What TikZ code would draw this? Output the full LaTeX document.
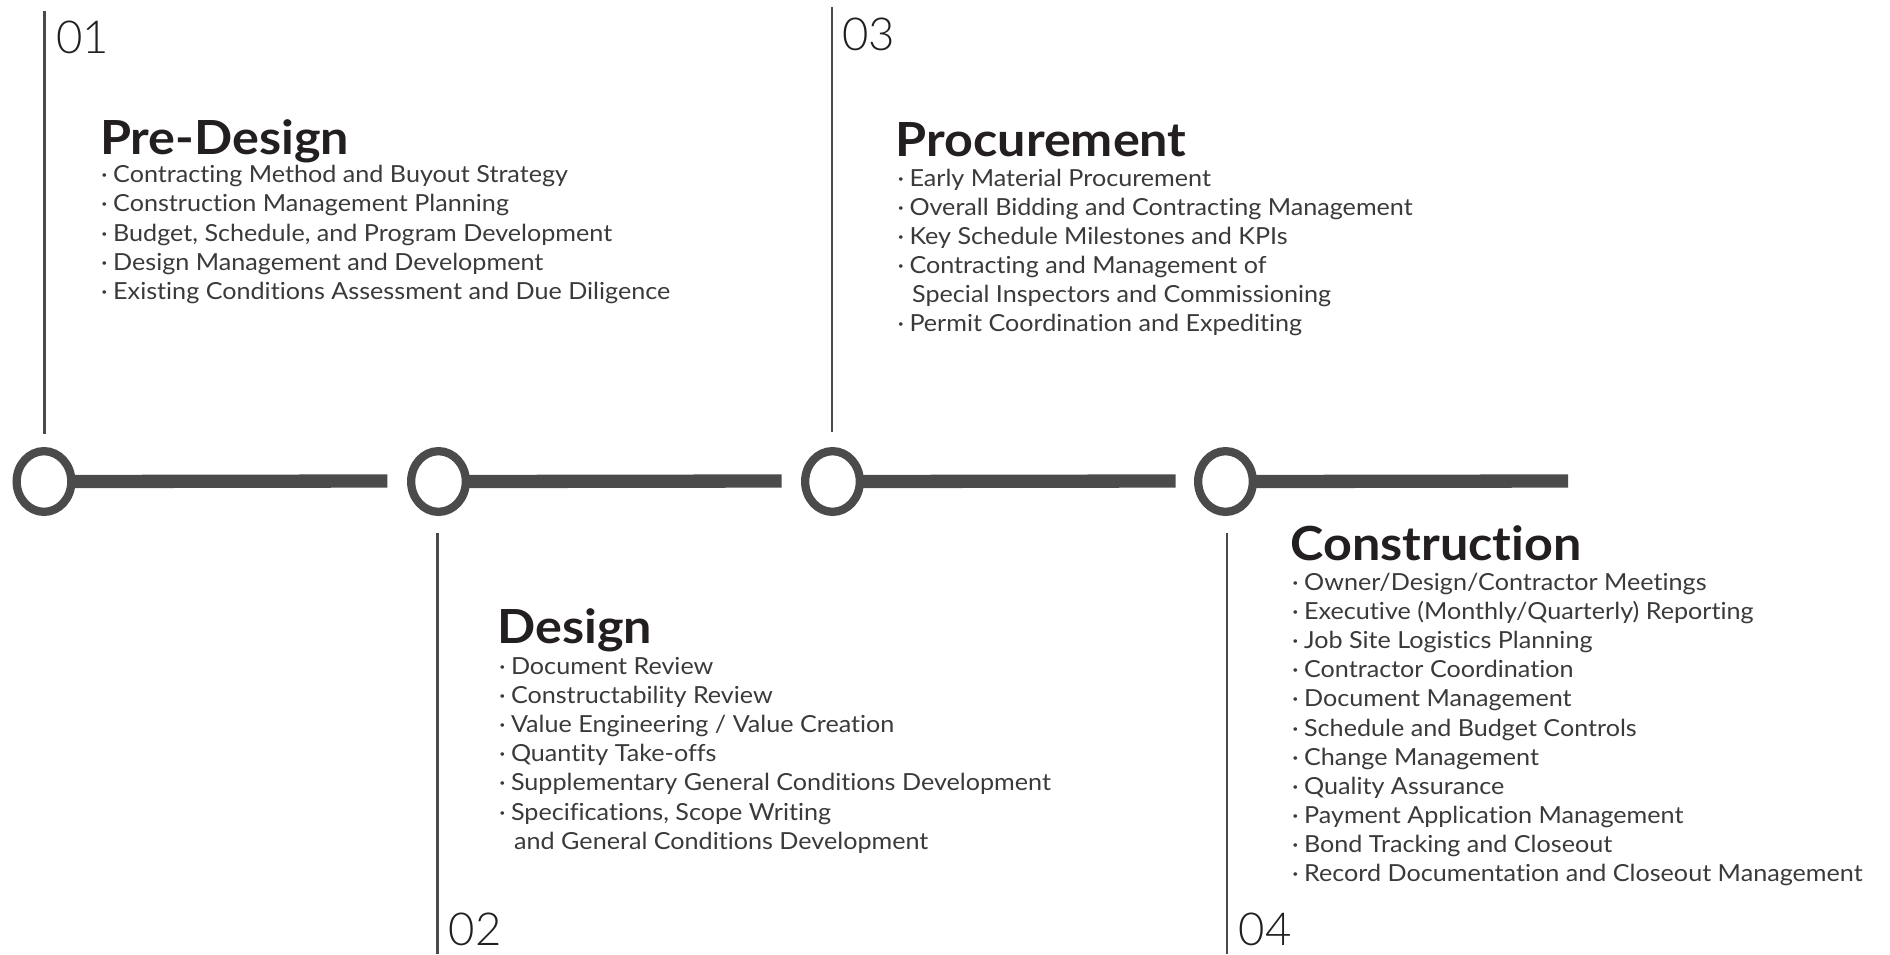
\documentclass[tikz,border=0pt]{standalone}
\usepackage{fontspec}
\setmainfont{Lato}[Ligatures=NoCommon, FakeStretch=1.07]
\newfontfamily\lightnum{Lato Light}
\usetikzlibrary{shapes.geometric}
\definecolor{ringgray}{HTML}{4B4B4B}
\definecolor{vgray}{HTML}{4A4A4A}
\definecolor{titleblack}{HTML}{231F20}
\definecolor{bodygray}{HTML}{3A3A3A}
\newcommand{\bul}{\makebox[12pt][l]{·}}
\begin{document}
\begin{tikzpicture}[x=1pt,y=-1pt,
  ring/.style={ellipse, draw=ringgray, fill=white, line width=8.3pt, minimum width=54.7pt, minimum height=60.7pt, inner sep=0pt},
  bar/.style={draw=ringgray, line width=13.3pt},
  vline/.style={draw=vgray, line width=2.4pt},
  num/.style={inner sep=0pt, anchor=base west, text=titleblack, font=\lightnum\fontsize{45.5}{50}\selectfont},
  ttl/.style={inner sep=0pt, anchor=base west, text=titleblack, font=\bfseries\fontsize{47}{52}\selectfont},
  item/.style={inner sep=0pt, anchor=base west, text=bodygray, font=\fontsize{23.5}{29}\selectfont}]
\useasboundingbox (0,0) rectangle (1890,954);
% vertical lines
\coordinate (v1t) at (44.3,10.7);  \coordinate (v1b) at (44.3,434);
\coordinate (v3t) at (831.7,7.3);  \coordinate (v3b) at (831.7,432);
\coordinate (v2t) at (437.3,532.7); \coordinate (v2b) at (437.3,954);
\coordinate (v4t) at (1226.7,532.7); \coordinate (v4b) at (1226.7,954);
\draw[vline] (v1t) -- (v1b);
\draw[vline] (v3t) -- (v3b);
\draw[vline] (v2t) -- (v2b);
\draw[vline] (v4t) -- (v4b);
% bars
\coordinate (b1) at (387.3,481);
\coordinate (b2) at (781.7,481);
\coordinate (b3) at (1175.5,481);
\coordinate (b4) at (1568,481);
\node[ring] (c1) at (44,481.5) {};
\node[ring] (c2) at (438.5,481.5) {};
\node[ring] (c3) at (832.5,481.5) {};
\node[ring] (c4) at (1225.5,481.5) {};
\draw[bar] ([xshift=-2pt]c1.east) -- (b1);
\draw[bar] ([xshift=-2pt]c2.east) -- (b2);
\draw[bar] ([xshift=-2pt]c3.east) -- (b3);
\draw[bar] ([xshift=-2pt]c4.east) -- (b4);
% numbers
\node[num] (n1) at (56,53.3) {01};
\node[num] (n3) at (842,50) {03};
\node[num] (n2) at (448.7,945) {02};
\node[num] (n4) at (1238.4,945.3) {04};
% titles
\node[ttl] (t1) at (100,154) {Pre-Design};
\node[ttl] (t3) at (895.5,156.7) {Procurement};
\node[ttl] (t2) at (497.5,643.7) {Design};
\node[ttl] (t4) at (1290.5,560.3) {Construction};
% Pre-Design items
\foreach \t [count=\i] in {Contracting Method and Buyout Strategy, Construction Management Planning, {Budget, Schedule, and Program Development}, Design Management and Development, Existing Conditions Assessment and Due Diligence}
  \node[item] (pd\i) at (101,182.7+29.15*\i-29.15) {\bul\t};
% Procurement items
\node[item] (pr1) at (897.3,186) {\bul Early Material Procurement};
\node[item] (pr2) at (897.3,215.15) {\bul Overall Bidding and Contracting Management};
\node[item] (pr3) at (897.3,244.3) {\bul Key Schedule Milestones and KPIs};
\node[item] (pr4) at (897.3,273.45) {\bul Contracting and Management of};
\node[item] (pr5) at (912,302.6) {Special Inspectors and Commissioning};
\node[item] (pr6) at (897.3,331.75) {\bul Permit Coordination and Expediting};
% Design items
\node[item] (d1) at (498.8,674.3) {\bul Document Review};
\node[item] (d2) at (498.8,703.45) {\bul Constructability Review};
\node[item] (d3) at (498.8,732.6) {\bul Value Engineering / Value Creation};
\node[item] (d4) at (498.8,761.75) {\bul Quantity Take-offs};
\node[item] (d5) at (498.8,790.9) {\bul Supplementary General Conditions Development};
\node[item] (d6) at (498.8,820.05) {\bul Specifications, Scope Writing};
\node[item] (d7) at (514,849.2) {and General Conditions Development};
% Construction items
\foreach \t [count=\i] in {Owner/Design/Contractor Meetings, Executive (Monthly/Quarterly) Reporting, Job Site Logistics Planning, Contractor Coordination, Document Management, Schedule and Budget Controls, Change Management, Quality Assurance, Payment Application Management, Bond Tracking and Closeout, Record Documentation and Closeout Management}
  \node[item] (co\i) at (1291.9,590.3+29.15*\i-29.15) {\bul\t};
\end{tikzpicture}
\end{document}
